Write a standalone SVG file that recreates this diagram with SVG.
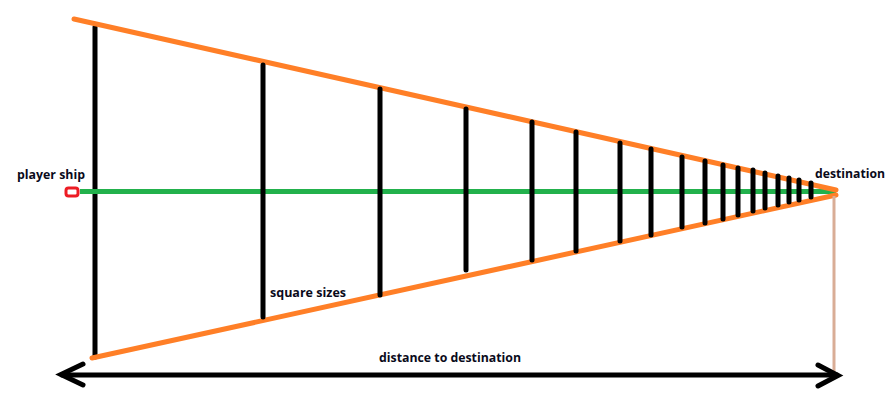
<svg xmlns="http://www.w3.org/2000/svg" width="893" height="401" viewBox="0 0 893 401">
<style>
.o{stroke:#ff7f27;stroke-width:5;stroke-linecap:round;fill:none}
.g{stroke:#22b14c;stroke-width:5;fill:none}
.v{stroke:#000;stroke-width:5;stroke-linecap:round;fill:none}
.a{stroke:#000;stroke-width:5;stroke-linecap:round;stroke-linejoin:miter;fill:none}
.t{font-family:"Open Sans","Liberation Sans",sans-serif;font-weight:bold;font-size:12.5px;fill:#0a0a1a}
</style>
<rect width="893" height="401" fill="#fff"/>
<g id="connectors">
<line class="v" x1="95" y1="27" x2="95" y2="357"/>
<line class="g" x1="80" y1="191.5" x2="836" y2="191.5"/>
<line class="o" x1="74" y1="19" x2="836" y2="190"/>
<line class="o" x1="92" y1="358" x2="836" y2="195"/>
<g id="squares">
<line class="v" x1="263" y1="65" x2="263" y2="317"/>
<line class="v" x1="380" y1="89" x2="380" y2="295"/>
<line class="v" x1="466" y1="109" x2="466" y2="270"/>
<line class="v" x1="532" y1="122" x2="532" y2="260"/>
<line class="v" x1="576" y1="132" x2="576" y2="251"/>
<line class="v" x1="620" y1="143" x2="620" y2="241"/>
<line class="v" x1="651" y1="149" x2="651" y2="235"/>
<line class="v" x1="682" y1="157" x2="682" y2="227"/>
<line class="v" x1="705" y1="161" x2="705" y2="223"/>
<line class="v" x1="723" y1="165" x2="723" y2="219"/>
<line class="v" x1="738" y1="168" x2="738" y2="215"/>
<line class="v" x1="753" y1="170" x2="753" y2="211"/>
<line class="v" x1="765" y1="173" x2="765" y2="208"/>
<line class="v" x1="778" y1="176" x2="778" y2="205"/>
<line class="v" x1="789" y1="178" x2="789" y2="202"/>
<line class="v" x1="799" y1="180" x2="799" y2="200"/>
<line class="v" x1="811" y1="183" x2="811" y2="197"/>
</g>
<line x1="834" y1="196" x2="834" y2="374" stroke="#d9ad96" stroke-width="3"/>
<line class="a" x1="62" y1="375" x2="837" y2="375"/>
<polyline class="a" points="83,364 61,374.5 83,385"/>
<polyline class="a" points="818,365 838,375.5 818,386"/>
</g>
<g id="player-ship">
<rect x="66" y="188" width="12" height="8" rx="2.5" fill="#fff" stroke="#ed1c24" stroke-width="3"/>
<text class="t" x="17" y="179" textLength="68" lengthAdjust="spacingAndGlyphs">player ship</text>
</g>
<g id="destination">
<text class="t" x="815" y="178" textLength="70" lengthAdjust="spacingAndGlyphs">destination</text>
</g>
<g id="square-sizes">
<text class="t" x="270" y="297" textLength="76" lengthAdjust="spacingAndGlyphs">square sizes</text>
</g>
<g id="distance">
<text class="t" x="379" y="362" textLength="142" lengthAdjust="spacingAndGlyphs">distance to destination</text>
</g>
</svg>
